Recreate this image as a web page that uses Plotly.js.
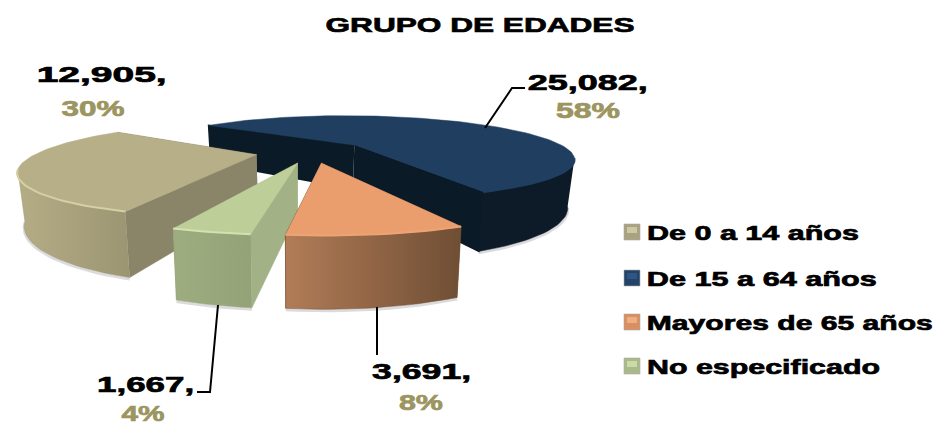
<!DOCTYPE html>
<html><head><meta charset="utf-8">
<script src="https://cdn.plot.ly/plotly-3.0.1.min.js"></script>
<style>html,body{margin:0;padding:0;background:#fff}#c{width:942px;height:427px}</style>
</head><body><div id="c"></div>
<script>
const categories = ['De 0 a 14 años','De 15 a 64 años','Mayores de 65 años','No especificado'];
const values = [12905,25082,3691,1667];
const percents = [30,58,8,4];
const topColors = ['#B7AF87','#203F60','#EA9E6E','#BDCE98'];
const rimColors = ['#D6CFA6','#203F60','#EDA475','#D3E2AE'];
const wallLeft = ['#B5AD85','#0D1B29','#B27C57','#9DAD80'];
const wallRight = ['#9C9573','#0D1B29','#6F4E34','#93A377'];
const radialColors = ['#8A8468','#0B1A27','#6F4E34','#A3B286'];
const swatchColors = ['#A9A27E','#234468','#D98F62','#A9B98A'];
const swatchLight = ['#CFC8A6','#2F5585','#EFAE82','#CBDAA9'];

// projection parameters of the tilted, exploded pie
const P = {cx:312, cy:151.5, a:217, b:41.6, p:0.3, e:0.26, h:46, x0:300, k:0.975, start:339.5};
const rad = d => d*Math.PI/180;
const total = values.reduce((s,v)=>s+v,0);
function topPt(wx,wy){const s=1/(1-P.p*wy);return [P.cx+P.a*wx*s,P.cy+P.b*wy*s,s];}
function botPt(wx,wy){const t=topPt(wx,wy);return [P.x0+(t[0]-P.x0)*P.k,t[1]+P.h*t[2]];}

let cur = P.start;
const slices = values.map((v,i)=>{
  const a1=cur, a2=cur-360*v/total; cur=a2;
  const m=(a1+a2)/2, ox=P.e*Math.sin(rad(m)), oy=P.e*Math.cos(rad(m));
  const arc=[]; const n=Math.max(8,Math.ceil((a1-a2)/2));
  for(let j=0;j<=n;j++){const f=a1+(a2-a1)*j/n;arc.push([ox+Math.sin(rad(f)),oy+Math.cos(rad(f)),f]);}
  return {i,ox,oy,arc};
});
function poly(pts,color,grad,lw){
  const t={type:'scatter',mode:'lines',x:pts.map(p=>p[0]),y:pts.map(p=>p[1]),fill:'toself',
    line:{width:lw||0.5,color:color||'rgba(0,0,0,0)'},hoverinfo:'skip',showlegend:false};
  if(grad){t.fillgradient={type:'horizontal',colorscale:[[0,grad[0]],[1,grad[1]]]};t.line.color=grad[1];}
  else t.fillcolor=color;
  return t;
}
function stroke(pts,color,width){
  return {type:'scatter',mode:'lines',x:pts.map(p=>p[0]),y:pts.map(p=>p[1]),line:{width,color},hoverinfo:'skip',showlegend:false};
}
const traces=[];
[1,0,3,2].forEach(idx=>{
  const s=slices[idx], first=s.arc[0], last=s.arc[s.arc.length-1];
  const front=s.arc.filter(q=>Math.cos(rad(q[2]))>=0.3);
  // soft shadow under the visible rim
  traces.push(stroke(front.map(q=>{const b=botPt(q[0],q[1]);return [b[0],b[1]+1.5];}),'rgba(110,110,120,0.25)',3));
  // radial walls
  [first,last].forEach(q=>{
    traces.push(poly([topPt(s.ox,s.oy),topPt(q[0],q[1]),botPt(q[0],q[1]),botPt(s.ox,s.oy)],radialColors[idx],null,idx===1?1.5:0.5));
  });
  // outer wall
  traces.push(poly(front.map(q=>topPt(q[0],q[1])).concat(front.map(q=>botPt(q[0],q[1])).reverse()),null,[wallLeft[idx],wallRight[idx]]));
  // top face
  traces.push(poly([topPt(s.ox,s.oy)].concat(s.arc.map(q=>topPt(q[0],q[1]))),topColors[idx]));
  // bevel along the front rim
  traces.push(stroke(front.map(q=>topPt(q[0],q[1])),rimColors[idx],2));
});

// text layout: position and stretched width of each label
const labelPos=[[101,74,130],[587,82,120],[421,371,99],[145,384,97]];
const pctPos=[[93,108,63],[588,110,64],[421,402,44],[143,413,43]];
const legendY=[232,278,322,366];
const legendW=[212,230,286,233];
const fmt=v=>v.toLocaleString('en-US')+',';
const annotations=[], widths=[];
function note(text,x,y,w,size,color){
  annotations.push({text,x,y,xref:'x',yref:'y',xanchor:'center',yanchor:'middle',showarrow:false,
    font:{family:'Liberation Sans, Arial, sans-serif',size,color,weight:700}});
  widths.push(w);
}
values.forEach((v,i)=>{
  note(fmt(v),labelPos[i][0],labelPos[i][1],labelPos[i][2],22,'#000000');
  note(percents[i]+'%',pctPos[i][0],pctPos[i][1],pctPos[i][2],22,'#9C9560');
});
categories.forEach((c,i)=>note(c,647+legendW[i]/2,legendY[i],legendW[i],21,'#000000'));

const shapes=[
  {type:'path',path:'M485,128 L512,88 L525,88',line:{color:'#000',width:2}},
  {type:'path',path:'M377,307 L377,355',line:{color:'#000',width:2}},
  {type:'path',path:'M218,305 L210,392 L197,392',line:{color:'#000',width:2}}
].map(s=>Object.assign(s,{xref:'x',yref:'y'}));
categories.forEach((c,i)=>{
  shapes.push({type:'rect',xref:'x',yref:'y',x0:624,x1:640,y0:legendY[i]-8,y1:legendY[i]+8,
    fillcolor:swatchColors[i],line:{color:'rgba(170,170,170,0.6)',width:1}});
  shapes.push({type:'rect',xref:'x',yref:'y',x0:627,x1:637,y0:legendY[i]-5,y1:legendY[i]+1,
    fillcolor:swatchLight[i],line:{width:0}});
});

const layout={
  width:942,height:427,margin:{l:0,r:0,t:0,b:0},paper_bgcolor:'#fff',plot_bgcolor:'#fff',showlegend:false,
  title:{text:'GRUPO DE EDADES',x:480/942,xanchor:'center',y:1-25/427,yanchor:'middle',
    font:{family:'Liberation Sans, Arial, sans-serif',size:21,color:'#000',weight:700}},
  xaxis:{range:[0,942],visible:false,fixedrange:true},
  yaxis:{range:[427,0],visible:false,fixedrange:true},
  annotations,shapes
};
Plotly.newPlot('c',traces,layout,{displayModeBar:false,staticPlot:true}).then(()=>{
  const fit=(el,w)=>{
    el.setAttribute('textLength',w);el.setAttribute('lengthAdjust','spacingAndGlyphs');
    el.style.stroke=el.style.fill;el.style.strokeWidth='0.7px';
  };
  document.querySelectorAll('.annotation-text').forEach((el,i)=>fit(el,widths[i]));
  const t=document.querySelector('.gtitle');
  if(t)fit(t,309);
});
</script></body></html>
